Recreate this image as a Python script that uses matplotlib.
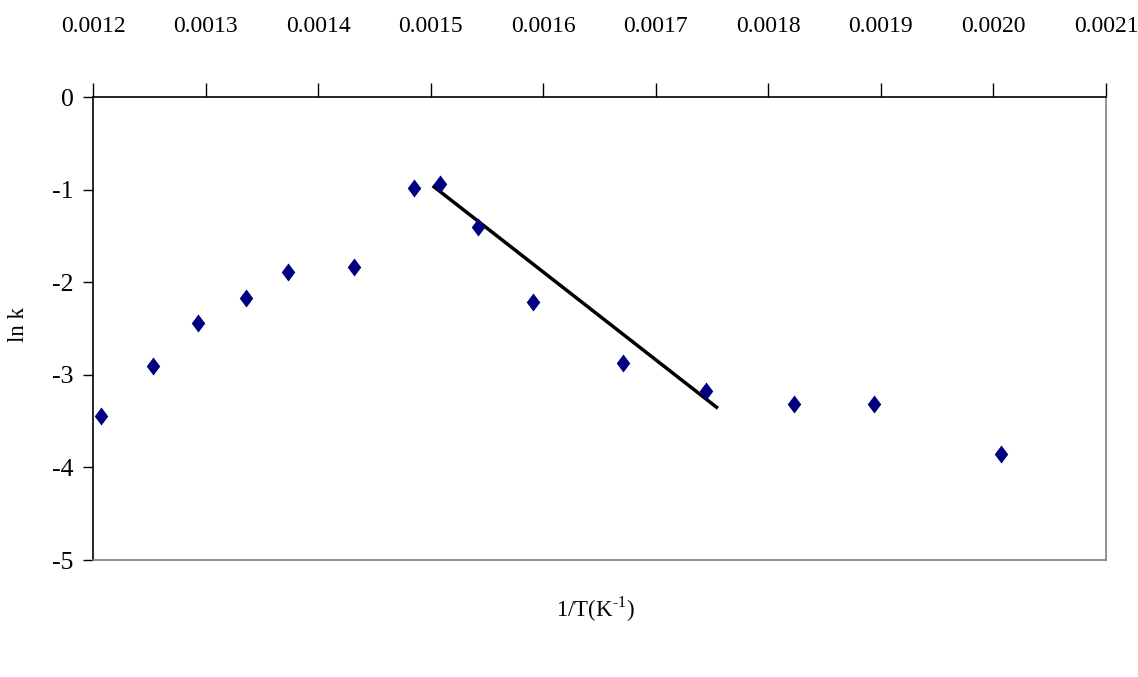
import matplotlib.pyplot as plt

plt.rcParams['font.family'] = ['Liberation Serif', 'DejaVu Serif']
plt.rcParams['mathtext.fontset'] = 'custom'
plt.rcParams['mathtext.rm'] = 'Liberation Serif'

# Arrhenius data: 1/T (K^-1) against ln k
inv_t = [0.001207, 0.001253, 0.001293, 0.001336, 0.001373, 0.001432,
         0.001485, 0.001508, 0.001542, 0.001591, 0.001671, 0.001745,
         0.001823, 0.001894, 0.002007]
ln_k = [-3.44, -2.91, -2.44, -2.17, -1.89, -1.84,
        -0.98, -0.94, -1.40, -2.21, -2.87, -3.17,
        -3.31, -3.31, -3.86]

# linear region trend line (end points)
fit_x = [0.001503, 0.001754]
fit_y = [-0.97, -3.35]

x_ticks = [0.0012, 0.0013, 0.0014, 0.0015, 0.0016, 0.0017,
           0.0018, 0.0019, 0.0020, 0.0021]
x_tick_labels = ['0.0012', '0.0013', '0.0014', '0.0015', '0.0016', '0.0017',
                 '0.0018', '0.0019', '0.0020', '0.0021']
y_ticks = [0, -1, -2, -3, -4, -5]

fig = plt.figure(figsize=(11.38, 6.77), dpi=100)
ax = fig.add_axes([0.0817, 0.1728, 0.8902, 0.6839])

diamond = [(0, 1), (0.75, 0), (0, -1), (-0.75, 0), (0, 1)]
ax.plot(inv_t, ln_k, linestyle='none', marker=diamond, markersize=13,
        markeredgewidth=0, color='#000080', zorder=3)
ax.plot(fit_x, fit_y, color='black', linewidth=2.5, zorder=2)

ax.set_xlim(0.0012, 0.0021)
ax.set_ylim(-5, 0)

ax.xaxis.tick_top()
ax.set_xticks(x_ticks)
ax.set_xticklabels(x_tick_labels, fontsize=17)
ax.tick_params(axis='x', direction='out', length=10, width=1,
               pad=33, colors='black')
ax.set_yticks(y_ticks)
ax.set_yticklabels([str(v) for v in y_ticks], fontsize=18.5)
ax.tick_params(axis='y', direction='out', length=7, width=1, pad=7)

ax.spines['left'].set_color('black')
ax.spines['top'].set_color('black')
ax.spines['right'].set_color('#808080')
ax.spines['bottom'].set_color('#808080')
for s in ax.spines.values():
    s.set_linewidth(1.2)

fig.text(0.016, 0.52, 'ln k', rotation=90, fontsize=16.5,
         ha='center', va='center')
fig.text(0.523, 0.10, r'1/T(K$^{\text{-1}}$)', fontsize=16.5,
         ha='center', va='center')

fig.savefig('out.png', dpi=100)
